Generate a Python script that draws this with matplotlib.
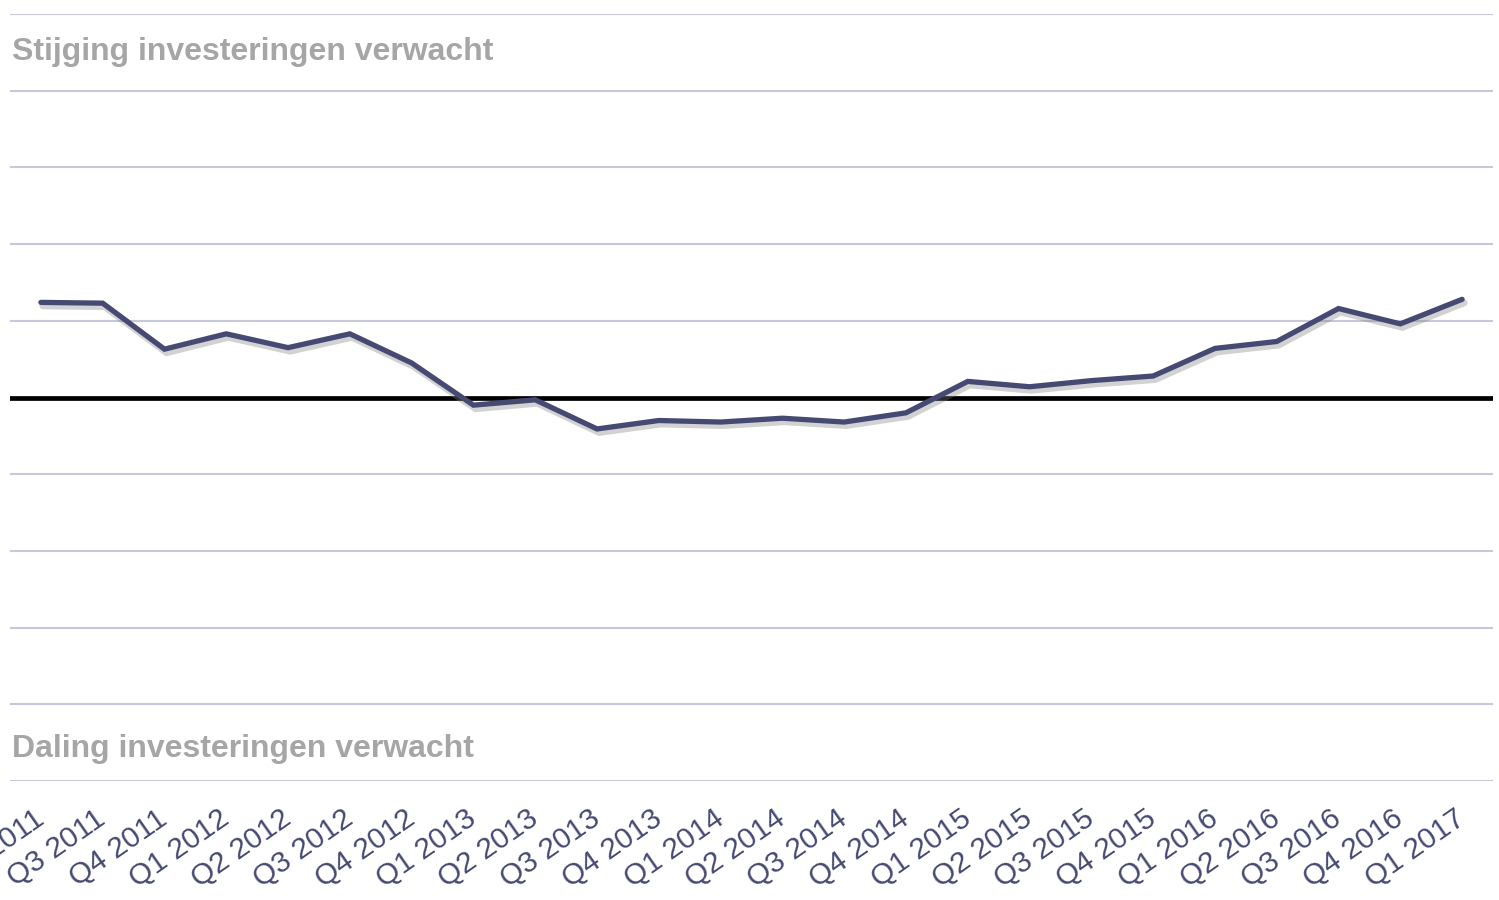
import matplotlib.pyplot as plt
import matplotlib.patheffects as pe
import matplotlib.transforms as mtransforms
import numpy as np

quarters = ["Q2 2011", "Q3 2011", "Q4 2011",
            "Q1 2012", "Q2 2012", "Q3 2012", "Q4 2012",
            "Q1 2013", "Q2 2013", "Q3 2013", "Q4 2013",
            "Q1 2014", "Q2 2014", "Q3 2014", "Q4 2014",
            "Q1 2015", "Q2 2015", "Q3 2015", "Q4 2015",
            "Q1 2016", "Q2 2016", "Q3 2016", "Q4 2016",
            "Q1 2017"]
values = [12.4, 12.3, 6.3, 8.3, 6.5, 8.3, 4.5, -1.0, -0.3, -4.1, -3.0, -3.2,
          -2.7, -3.2, -2.0, 2.1, 1.4, 2.2, 2.8, 6.4, 7.3, 11.6, 9.6, 12.8]
grid_levels = [-50, -40, -30, -20, -10, 10, 20, 30, 40, 50]

LINE = "#464a72"
GRID = "#c8c8dc"
LABEL = "#a6a6a6"


def main():
    fig = plt.figure(figsize=(14.99, 9), dpi=100)
    ax = fig.add_axes([10 / 1499, 119 / 900, 1483 / 1499, 767 / 900])

    for lvl in grid_levels:
        ax.axhline(lvl, color=GRID, lw=1.5, zorder=1)
    ax.axhline(0, color="black", lw=3.4, zorder=2)

    x = np.arange(len(quarters))
    ax.plot(x, values, color=LINE, lw=3.8, solid_capstyle="round",
            solid_joinstyle="miter", zorder=3,
            path_effects=[pe.SimpleLineShadow(offset=(1.5, -2.5), shadow_color="#808080",
                                              alpha=0.35, linewidth=5),
                          pe.Normal()])

    ax.set_xlim(-0.5, len(quarters) - 0.5)
    ax.set_ylim(-50, 50)
    ax.set_yticks([])
    ax.set_xticks(x)
    ax.set_xticklabels(quarters, rotation=35, ha="right", va="top",
                       rotation_mode="anchor", fontsize=21.5,
                       family="Liberation Sans", color=LINE)
    ax.tick_params(axis="x", length=0, pad=17)
    # nudge labels a bit to the left
    shift = mtransforms.ScaledTranslation(-8 / 100, 0, fig.dpi_scale_trans)
    for lab in ax.get_xticklabels():
        lab.set_transform(lab.get_transform() + shift)
    for s in ax.spines.values():
        s.set_visible(False)

    ax.text(0.0015, 0.95, "Stijging investeringen verwacht", transform=ax.transAxes,
            fontsize=23, fontweight="bold", family="Liberation Sans",
            color=LABEL, va="center", ha="left")
    ax.text(0.0015, 0.042, "Daling investeringen verwacht", transform=ax.transAxes,
            fontsize=23, fontweight="bold", family="Liberation Sans",
            color=LABEL, va="center", ha="left")

    fig.savefig("out.png", dpi=100)


if __name__ == "__main__":
    main()
